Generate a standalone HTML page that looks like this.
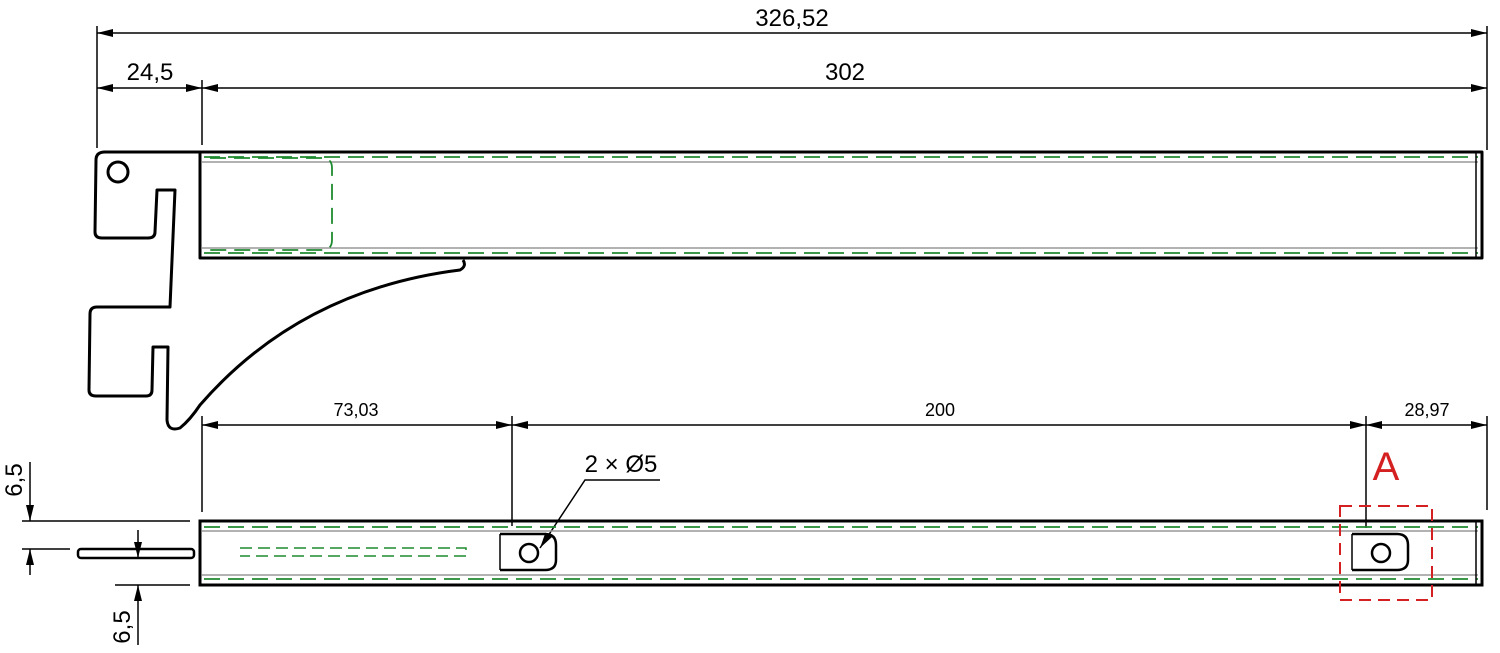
<!DOCTYPE html>
<html><head><meta charset="utf-8"><style>body{margin:0;background:#fff}svg{display:block}text{font-family:"Liberation Sans",sans-serif}</style></head><body>
<svg width="1500" height="653" viewBox="0 0 1500 653" xmlns="http://www.w3.org/2000/svg">
<defs>
<marker id="a" viewBox="0 0 16 8" refX="16" refY="4" markerWidth="16" markerHeight="8" orient="auto-start-reverse" markerUnits="userSpaceOnUse"><path d="M0,0 L16,4 L0,8 Z" fill="#000"/></marker>
</defs>
<g stroke="#000" stroke-width="1.5" fill="none">
<!-- top dims -->
<line x1="97" y1="26" x2="97" y2="148"/><line x1="1487" y1="26" x2="1487" y2="150"/><line x1="202" y1="80" x2="202" y2="145"/>
<line x1="97" y1="33" x2="1487" y2="33" marker-start="url(#a)" marker-end="url(#a)"/>
<line x1="202" y1="88" x2="1487" y2="88" marker-start="url(#a)" marker-end="url(#a)"/>
<line x1="97" y1="88" x2="202" y2="88" marker-start="url(#a)" marker-end="url(#a)"/>
<!-- bottom dims -->
<line x1="202" y1="416" x2="202" y2="512"/><line x1="512" y1="416" x2="512" y2="526"/><line x1="1366" y1="416" x2="1366" y2="528"/><line x1="1487" y1="416" x2="1487" y2="510"/>
<line x1="202" y1="425" x2="512" y2="425" marker-start="url(#a)" marker-end="url(#a)"/>
<line x1="512" y1="425" x2="1366" y2="425" marker-start="url(#a)" marker-end="url(#a)"/>
<line x1="1366" y1="425" x2="1487" y2="425" marker-start="url(#a)" marker-end="url(#a)"/>
<!-- left small dims -->
<line x1="22" y1="521" x2="190" y2="521"/><line x1="22" y1="549" x2="70" y2="549"/>
<line x1="30" y1="462" x2="30" y2="521" marker-end="url(#a)"/><line x1="30" y1="575" x2="30" y2="549" marker-end="url(#a)"/>
<line x1="115" y1="585" x2="190" y2="585"/>
<line x1="138" y1="530" x2="138" y2="558" marker-end="url(#a)"/><line x1="138" y1="645" x2="138" y2="585" marker-end="url(#a)"/>
<!-- leader -->
<polyline points="660,480 585,480 540,548" marker-end="url(#a)"/>
</g>
<g font-size="24" fill="#000" text-anchor="middle">
<text x="792" y="26">326,52</text>
<text x="845" y="80">302</text>
<text x="150" y="80">24,5</text>
<text x="356" y="416" font-size="18">73,03</text>
<text x="940" y="416" font-size="18">200</text>
<text x="1427" y="416" font-size="18">28,97</text>
<text x="621" y="472">2 × Ø5</text>
<text transform="translate(22,480) rotate(-90)">6,5</text>
<text transform="translate(130,627) rotate(-90)">6,5</text>
<text x="1386" y="480" font-size="40" fill="#d42020">A</text>
</g>
<!-- top view bar -->
<g fill="none">
<line x1="202" y1="162" x2="1478" y2="162" stroke="#999" stroke-width="1.5"/>
<line x1="202" y1="248" x2="1478" y2="248" stroke="#999" stroke-width="1.5"/>
<g stroke="#1f8a2f" stroke-width="1.8" stroke-dasharray="16,8">
<line x1="204" y1="157" x2="1478" y2="157"/><line x1="204" y1="253" x2="1478" y2="253"/>
<path d="M210,158 L322,158 Q332,158 332,168 L332,240 Q332,250 322,250 L210,250"/>
</g>
<path d="M105,152 L1482,152 L1482,258 L200,258 L200,152" stroke="#000" stroke-width="3" stroke-linejoin="round"/>
<line x1="1476" y1="152" x2="1476" y2="258" stroke="#000" stroke-width="1.5"/>
<path d="M200,152 L105,152 Q96,152 96,160 L95,232 Q95,238 102,238 L148,238 Q155,238 155,232 L157,190 L175,190 L170,307 L97,307 Q90,307 90,314 L89,390 Q89,396 96,396 L146,396 Q152,396 152,390 L153,347 L168,347 L167,420 Q168,432 180,428 Q190,420 200,405 Q300,290 460,270 Q467,266 463,260" stroke="#000" stroke-width="3" stroke-linejoin="round"/>
<circle cx="118" cy="172" r="10" stroke="#000" stroke-width="3"/>
</g>
<!-- bottom view bar -->
<g fill="none">
<line x1="202" y1="531" x2="1478" y2="531" stroke="#999" stroke-width="1.5"/>
<line x1="202" y1="575" x2="1478" y2="575" stroke="#999" stroke-width="1.5"/>
<g stroke="#1f8a2f" stroke-width="1.8" stroke-dasharray="16,8">
<line x1="204" y1="527" x2="1478" y2="527"/><line x1="204" y1="579" x2="1478" y2="579"/>
<path d="M240,548 L466,548 L466,556 L240,556" stroke-width="1.5" stroke-dasharray="12,6"/>
</g>
<rect x="200" y="521" width="1282" height="64" stroke="#000" stroke-width="3"/>
<line x1="1476" y1="521" x2="1476" y2="585" stroke="#000" stroke-width="1.5"/>
<rect x="78" y="549" width="116" height="9" rx="3" stroke="#000" stroke-width="2.5"/>
<g stroke="#000" stroke-width="2.5">
<path d="M500,534 L545,534 Q556,534 556,545 L556,560 Q556,570 545,570 L500,570"/>
<line x1="500" y1="534" x2="500" y2="570" stroke-width="1.5"/>
<circle cx="529" cy="553" r="9"/>
<path d="M1352,534 L1397,534 Q1408,534 1408,545 L1408,560 Q1408,570 1397,570 L1352,570"/>
<line x1="1352" y1="534" x2="1352" y2="570" stroke-width="1.5"/>
<circle cx="1381" cy="553" r="9"/>
</g>
<rect x="1340" y="506" width="92" height="94" stroke="#d42020" stroke-width="2" stroke-dasharray="12,7"/>
</g>
</svg>
</body></html>
